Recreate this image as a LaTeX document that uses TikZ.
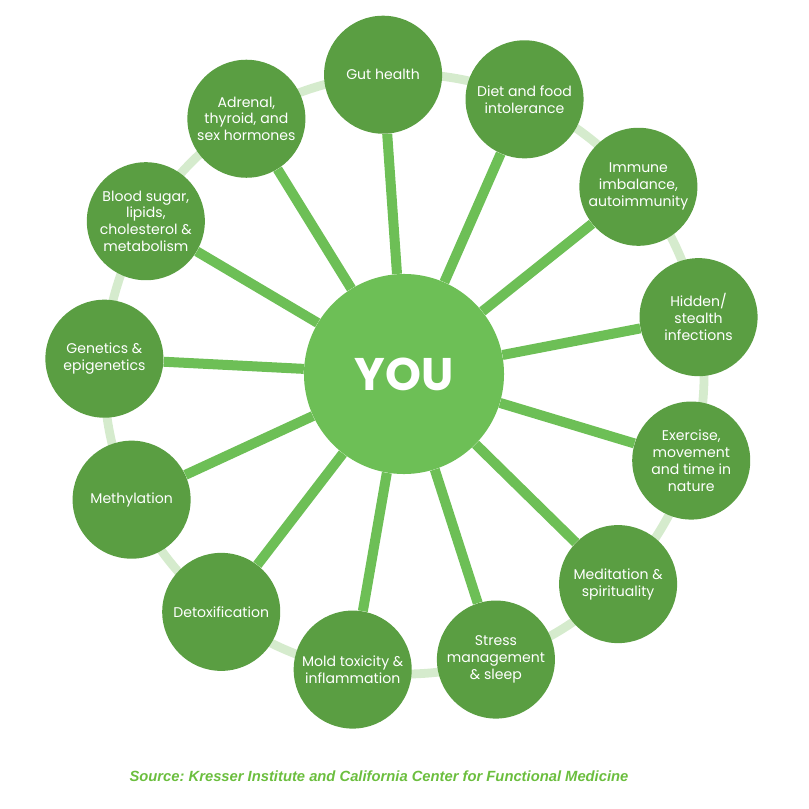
\documentclass[tikz,border=0pt]{standalone}
\usepackage{fontspec}
\setmainfont{Poppins}
\newfontfamily\sourcefont{Liberation Sans}
\definecolor{leafdark}{HTML}{5A9E42}
\definecolor{leafmid}{HTML}{6DBF56}
\definecolor{leafpale}{HTML}{D5EBCD}
\definecolor{leafsource}{HTML}{6BBE3E}

\begin{document}
\begin{tikzpicture}[x=0.025cm,y=0.025cm,
    topic/.style={circle,fill=leafdark,draw=none,minimum size=2.95cm,inner sep=0pt,
        align=center,text=white,font=\fontsize{10}{12}\selectfont},
    you/.style={circle,fill=leafmid,minimum size=5cm,inner sep=0pt,
        text=white,font=\fontsize{32.5}{32}\selectfont\bfseries},
    spoke/.style={leafmid,line width=0.25cm},
    ringline/.style={leafpale,line width=0.22cm}]
                \useasboundingbox (-404,-435) rectangle (405,374);
                \draw[ringline] (0,0) circle[radius=7.5cm];
                \node[you] (center) at (0,0) {YOU};
                \foreach \txt [count=\i] in {{Gut health},
                    {Diet and food\\intolerance},
                    {Immune\\imbalance,\\autoimmunity},
                    {Hidden/\\stealth\\infections},
                    {Exercise,\\movement\\and time in\\nature},
                    {Meditation \&\\spirituality},
                    {Stress\\management\\\& sleep},
                    {Mold toxicity \&\\inflammation},
                    {Detoxification},
                    {Methylation},
                    {Genetics \&\\epigenetics},
                    {Blood sugar,\\lipids,\\cholesterol \&\\metabolism},
                    {Adrenal,\\thyroid, and\\sex hormones}}{
                    \pgfmathsetmacro\ang{94-(\i-1)*360/13}
                    \node[topic] (topic\i) at (\ang:300) {\txt};
                    \draw[spoke] (center) -- (topic\i);
                }
                \node[text=leafsource,font=\sourcefont\fontsize{10.5}{12}\selectfont\bfseries\itshape\frenchspacing]
                    (source) at (-25,-402) {Source: Kresser Institute and California Center for Functional Medicine};
            \end{tikzpicture}
\end{document}
